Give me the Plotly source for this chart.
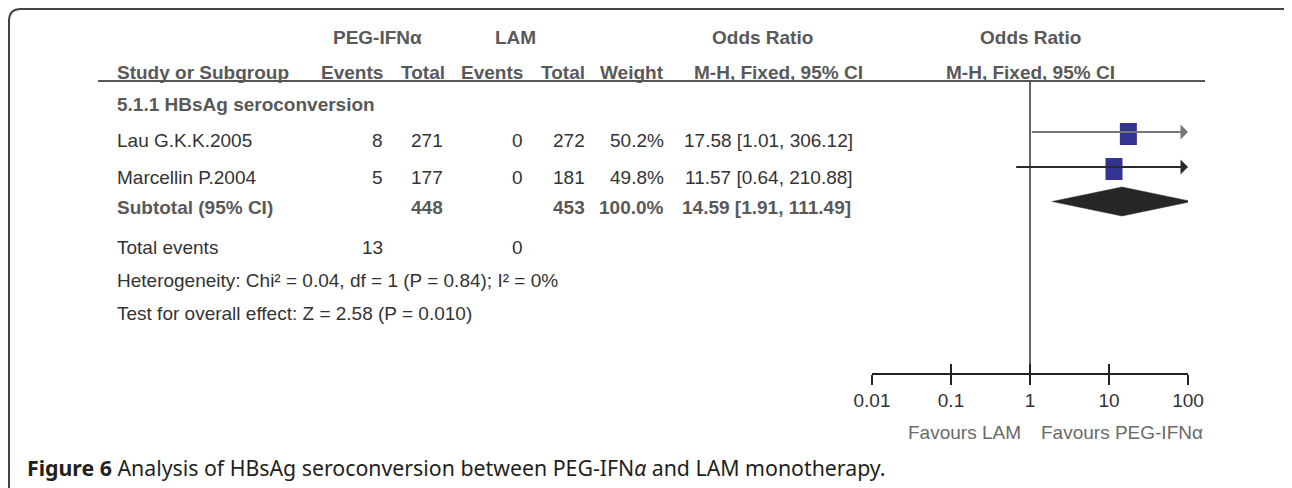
import math
import plotly.graph_objects as go

# ---------------- data ----------------
studies = ["Lau G.K.K.2005", "Marcellin P.2004"]
peg_events = [8, 5]
peg_total = [271, 177]
lam_events = [0, 0]
lam_total = [272, 181]
weights = [50.2, 49.8]
odds_ratio = [17.58, 11.57]
ci_low = [1.01, 0.64]
ci_high = [306.12, 210.88]

subgroup_label = "5.1.1 HBsAg seroconversion"
subtotal_label = "Subtotal (95% CI)"
subtotal_peg_total = 448
subtotal_lam_total = 453
subtotal_weight = 100.0
subtotal_or = 14.59
subtotal_low = 1.91
subtotal_high = 111.49

total_events_peg = 13
total_events_lam = 0

heterogeneity_text = "Heterogeneity: Chi² = 0.04, df = 1 (P = 0.84); I² = 0%"
overall_text = "Test for overall effect: Z = 2.58 (P = 0.010)"

tick_values = [0.01, 0.1, 1, 10, 100]
tick_labels = ["0.01", "0.1", "1", "10", "100"]

favours_left = "Favours LAM"
favours_right = "Favours PEG-IFNα"
caption = "<b>Figure 6</b> Analysis of HBsAg seroconversion between PEG-IFN<i>α</i> and LAM monotherapy."

# ---------------- layout constants ----------------
W, H = 1292, 488
OFF = 8                      # page body margin compensation
FONT = "Liberation Sans Narrow, Arial Narrow, Liberation Sans, Arial, sans-serif"
FS = 19
C_TXT = "#333333"
C_HDR = "#595959"
X0_PX, X1_PX = 872, 1188          # plot area horizontal extent
Y_TOP, Y_AXIS = 81, 373           # plot area vertical extent
XMIN, XMAX = math.log10(tick_values[0]), math.log10(tick_values[-1])
DX_PER_PX = (XMAX - XMIN) / (X1_PX - X0_PX)


def px(x):
    return (x - OFF) / W


def py(y):
    return 1 - (y - OFF) / H


annotations = []


def txt(x, y, s, anchor="left", bold=False, color=C_TXT, size=FS, family=FONT):
    annotations.append(dict(
        x=px(x), y=py(y), xref="paper", yref="paper", text=(f"<b>{s}</b>" if bold else s),
        showarrow=False, xanchor=anchor, yanchor="middle",
        font=dict(family=family, size=size, color=color)))


# columns (right edges)
COL_NAME = 115
COL_EV1, COL_TOT1, COL_EV2, COL_TOT2, COL_W, COL_CI = 385, 445, 525, 587, 666, 855

# header
txt(377, 37, "PEG-IFNα", "center", True, C_HDR)
txt(515, 37, "LAM", "center", True, C_HDR)
txt(762, 37, "Odds Ratio", "center", True, C_HDR)
txt(1030, 37, "Odds Ratio", "center", True, C_HDR)
y_h2 = 72
txt(COL_NAME, y_h2, "Study or Subgroup", "left", True, C_HDR)
txt(COL_EV1, y_h2, "Events", "right", True, C_HDR)
txt(COL_TOT1 + 2, y_h2, "Total", "right", True, C_HDR)
txt(COL_EV2, y_h2, "Events", "right", True, C_HDR)
txt(COL_TOT2, y_h2, "Total", "right", True, C_HDR)
txt(COL_W, y_h2, "Weight", "right", True, C_HDR)
txt(778, y_h2, "M-H, Fixed, 95% CI", "center", True, C_HDR)
txt(1030, y_h2, "M-H, Fixed, 95% CI", "center", True, C_HDR)

txt(COL_NAME, 104, subgroup_label, "left", True, C_HDR)

study_text_y = [141, 177]
study_mark_y = [132, 167]
for i, name in enumerate(studies):
    y = study_text_y[i]
    txt(COL_NAME, y, name)
    txt(COL_EV1, y, str(peg_events[i]), "right")
    txt(COL_TOT1, y, str(peg_total[i]), "right")
    txt(COL_EV2, y, str(lam_events[i]), "right")
    txt(COL_TOT2, y, str(lam_total[i]), "right")
    txt(COL_W, y, f"{weights[i]:.1f}%", "right")
    txt(COL_CI, y, f"{odds_ratio[i]:.2f} [{ci_low[i]:.2f}, {ci_high[i]:.2f}]", "right")

y_sub = 207
txt(COL_NAME, y_sub, subtotal_label, "left", True, C_HDR)
txt(COL_TOT1, y_sub, str(subtotal_peg_total), "right", True, C_HDR)
txt(COL_TOT2, y_sub, str(subtotal_lam_total), "right", True, C_HDR)
txt(COL_W, y_sub, f"{subtotal_weight:.1f}%", "right", True, C_HDR)
txt(COL_CI - 2, y_sub, f"{subtotal_or:.2f} [{subtotal_low:.2f}, {subtotal_high:.2f}]", "right", True, C_HDR)

txt(COL_NAME, 247, "Total events")
txt(COL_EV1, 247, str(total_events_peg), "right")
txt(COL_EV2, 247, str(total_events_lam), "right")
txt(COL_NAME, 280, heterogeneity_text)
txt(COL_NAME, 313, overall_text)

txt(1023, 432, favours_left, "right", color="#6a6a6a")
txt(1039, 432, favours_right, "left", color="#6a6a6a")

txt(25, 467, caption, "left", color="#231f20", size=21.3, family="Noto Sans, Open Sans, sans-serif")

# ---------------- forest plot ----------------
fig = go.Figure()
shapes = []

line_colors = ["#777777", "#2a2a2a"]
sq_half_w = 8.5 * DX_PER_PX
sq_half_h = 11
for i in range(len(studies)):
    ym = study_mark_y[i]
    lo = math.log10(ci_low[i])
    hi = math.log10(ci_high[i])
    clipped_hi = min(hi, XMAX)
    clipped_lo = max(lo, XMIN)
    if hi > XMAX:
        annotations.append(dict(
            x=clipped_hi, y=ym, xref="x", yref="y", ax=clipped_lo, ay=ym, axref="x", ayref="y",
            text="", showarrow=True, arrowhead=1, arrowsize=1.25, arrowwidth=2,
            arrowcolor=line_colors[i], standoff=0))
    else:
        fig.add_trace(go.Scatter(x=[clipped_lo, clipped_hi], y=[ym, ym], mode="lines",
                                 line=dict(color=line_colors[i], width=2),
                                 hoverinfo="skip", showlegend=False))
    c = math.log10(odds_ratio[i])
    yc = ym + 2
    shapes.append(dict(type="rect", xref="x", yref="y",
                       x0=c - sq_half_w, x1=c + sq_half_w, y0=yc - sq_half_h, y1=yc + sq_half_h,
                       fillcolor="#333391", line=dict(width=0), layer="above"))

# subtotal diamond
yd = 201.5
dh = 14.5
dl, dc, dr = math.log10(subtotal_low), math.log10(subtotal_or), math.log10(subtotal_high)
fig.add_trace(go.Scatter(x=[dl, dc, dr, dc, dl], y=[yd, yd - dh, yd, yd + dh, yd],
                         mode="lines", fill="toself", fillcolor="#262626",
                         line=dict(color="#262626", width=0.5),
                         hoverinfo="skip", showlegend=False))

# hidden trace on overlay axis so that it renders
fig.add_trace(go.Scatter(x=[XMIN], y=[Y_AXIS], xaxis="x2", mode="markers",
                         marker=dict(opacity=0), hoverinfo="skip", showlegend=False))

# header underline
shapes.append(dict(type="line", xref="paper", yref="paper", x0=px(98), x1=px(1205),
                   y0=py(81), y1=py(81), line=dict(color="#555555", width=2)))

# rounded frame
frame_path = (f"M {px(9)},{py(500)} L {px(9)},{py(21)} Q {px(9)},{py(9)} {px(21)},{py(9)} "
              f"L {px(1283)},{py(9)} Q {px(1290)},{py(9)} {px(1296)},{py(16)}")
shapes.append(dict(type="path", xref="paper", yref="paper", path=frame_path,
                   line=dict(color="#444444", width=2)))

tv = [math.log10(v) for v in tick_values]
fig.update_layout(
    template="none",
    width=W, height=H, autosize=False,
    margin=dict(l=0, r=0, t=0, b=0, pad=0, autoexpand=False),
    paper_bgcolor="white", plot_bgcolor="white",
    showlegend=False,
    xaxis=dict(domain=[px(X0_PX), px(X1_PX)], range=[XMIN, XMAX], tickmode="array",
               tickvals=tv, ticktext=tick_labels, showgrid=False, automargin=False,
               showline=True, linecolor="#222222", linewidth=2,
               ticks="outside", ticklen=10, tickwidth=2, tickcolor="#222222",
               tickfont=dict(family=FONT, size=FS, color="#333333"),
               ticklabelstandoff=-1,
               zeroline=True, zerolinecolor="#666666", zerolinewidth=2,
               fixedrange=True),
    xaxis2=dict(overlaying="x", anchor="y", side="bottom", range=[XMIN, XMAX],
                tickmode="array", tickvals=tv, showticklabels=False, showgrid=False,
                automargin=False,
                showline=False, zeroline=False, ticks="inside", ticklen=9, tickwidth=2,
                tickcolor="#222222"),
    yaxis=dict(domain=[py(Y_AXIS), py(Y_TOP)], range=[Y_AXIS, Y_TOP],
               visible=False, fixedrange=True, automargin=False, showgrid=False,
               zeroline=False),
    shapes=shapes,
    annotations=annotations,
)

fig.write_html("out.html")
